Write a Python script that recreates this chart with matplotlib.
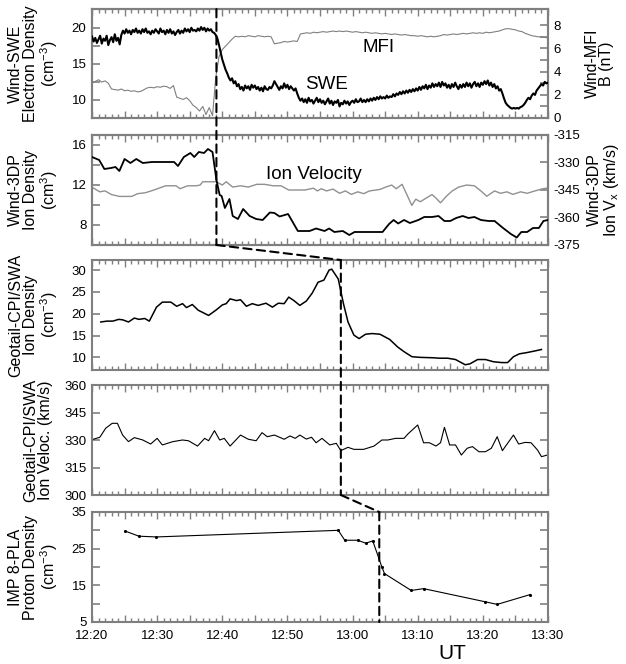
import numpy as np
import matplotlib
matplotlib.use("Agg")
import matplotlib.pyplot as plt
from matplotlib.patches import ConnectionPatch

plt.rcParams['font.family'] = ['Liberation Sans', 'DejaVu Sans']
plt.rcParams['mathtext.default'] = 'regular'

# time axis: minutes after 12:20 UT
X_MAJOR = [0, 5, 10, 15, 20, 25, 30, 35, 40, 45, 50, 55, 60, 65, 70]
X_LABELS = ['12:20', '', '12:30', '', '12:40', '', '12:50', '',
            '13:00', '', '13:10', '', '13:20', '', '13:30']

# Wind-SWE electron density, 15 s samples from 12:20
swe_t = np.arange(0, 70.01, 0.25)
swe_n = [
    18.8, 18.1, 18.6, 17.9, 18.4, 18.9, 17.8, 18.5, 18.2, 18.9, 17.6, 18.3,
    18.7, 18.0, 19.1, 18.2, 18.6, 17.7, 19.0, 19.6, 19.2, 19.8, 19.3, 19.6,
    19.1, 19.7, 19.4, 19.9, 19.3, 19.6, 19.2, 19.8, 19.4, 19.9, 19.3, 19.5,
    19.1, 19.6, 19.3, 19.8, 19.5, 19.2, 19.9, 19.4, 19.6, 19.1, 19.7, 19.3,
    19.8, 19.2, 19.5, 19.0, 19.4, 19.7, 19.2, 19.6, 19.3, 19.9, 19.5, 19.8,
    19.4, 20.0, 19.6, 19.7, 19.5, 19.9, 19.6, 20.1, 19.7, 20.0, 19.5, 19.9,
    19.6, 19.8, 19.4, 19.3, 19.0, 18.5, 17.6, 16.6, 15.6, 14.9, 14.2, 13.7,
    13.1, 12.7, 13.0, 12.3, 12.6, 11.9, 12.2, 11.5, 11.8, 11.3, 12.0, 11.6,
    11.9, 11.4, 12.1, 11.7, 12.0, 11.5, 11.8, 11.3, 11.7, 11.2, 11.9, 11.5,
    11.4, 11.8, 11.6, 12.0, 12.6, 12.2, 11.8, 11.4, 11.9, 11.6, 12.3, 11.7,
    12.1, 11.5, 11.9, 11.6, 11.3, 11.6, 10.9, 10.3, 9.9, 10.2, 9.7, 10.1,
    9.6, 10.3, 9.8, 10.0, 9.5, 9.9, 10.3, 9.7, 10.1, 9.6, 9.9, 9.4,
    9.8, 10.2, 9.5, 9.9, 9.3, 9.8, 9.6, 10.0, 9.1, 9.6, 9.4, 9.9,
    9.5, 9.8, 9.3, 9.7, 9.9, 9.6, 10.1, 9.7, 9.8, 10.2, 9.7, 10.0,
    9.7, 10.1, 9.8, 10.2, 9.9, 10.3, 10.0, 10.4, 10.1, 10.5, 10.2, 10.4,
    10.2, 10.6, 10.3, 10.5, 10.4, 10.8, 10.5, 10.9, 10.7, 11.1, 10.8, 11.2,
    10.9, 11.3, 11.0, 11.4, 11.1, 11.5, 11.2, 11.6, 11.3, 11.8, 11.4, 11.9,
    11.6, 12.1, 11.5, 12.0, 11.7, 12.3, 11.8, 12.2, 11.9, 12.4, 11.8, 12.5,
    12.0, 12.3, 11.7, 12.1, 11.6, 12.2, 11.8, 12.4, 11.9, 11.5, 12.1, 11.7,
    12.2, 11.8, 12.4, 11.9, 12.3, 11.7, 12.2, 12.5, 11.9, 12.3, 11.8, 12.4,
    12.1, 12.6, 12.2, 12.7, 12.0, 12.4, 11.8, 12.2, 11.6, 11.9, 11.3, 11.5,
    10.9, 10.2, 9.6, 9.3, 9.1, 8.9, 8.8, 8.9, 8.8, 8.9, 8.8, 9.0,
    9.1, 9.3, 9.6, 10.0, 10.3, 10.1, 10.6, 10.9, 10.7, 11.3, 11.6, 11.9,
    12.2, 12.0, 12.5, 12.3, 12.4,
]

# Wind-MFI |B| (nT), 30 s samples
mfi_t = np.arange(0, 70.01, 0.5)
mfi_b = [
    3.0, 3.15, 3.3, 3.1, 3.2, 3.0, 2.5, 2.45, 2.4, 2.5, 2.35, 2.4,
    2.3, 2.35, 2.25, 2.3, 2.45, 2.6, 2.65, 2.6, 2.7, 2.65, 2.75, 2.7,
    2.55, 2.8, 1.8, 1.7, 1.6, 1.75, 1.5, 1.1, 0.9, 0.6, 1.0, 0.3,
    0.9, 0.2, 3.5, 5.3, 5.9, 6.2, 6.5, 6.8, 7.05, 7.0, 7.05, 7.0,
    7.1, 7.05, 7.0, 7.1, 7.05, 7.0, 7.05, 7.0, 6.4, 6.45, 6.5, 6.6,
    6.55, 6.6, 6.65, 6.6, 7.25, 7.3, 7.35, 7.3, 7.4, 7.35, 7.4, 7.45,
    7.4, 7.45, 7.5, 7.45, 7.5, 7.45, 7.5, 7.45, 7.4, 7.45, 7.4, 7.35,
    7.4, 7.35, 7.3, 7.35, 7.3, 7.25, 7.3, 7.25, 7.2, 7.25, 7.2, 7.15,
    7.2, 7.15, 7.1, 7.1, 7.05, 7.1, 7.05, 7.0, 7.05, 7.0, 7.05, 7.1,
    7.2, 7.15, 7.2, 7.25, 7.2, 7.25, 7.3, 7.25, 7.3, 7.35, 7.3, 7.35,
    7.3, 7.4, 7.35, 7.4, 7.45, 7.5, 7.6, 7.7, 7.7, 7.65, 7.6, 7.5,
    7.45, 7.3, 7.2, 7.1, 7.05, 7.0, 7.0, 6.95, 6.9,
]

# Wind-3DP ion density
tdp_t = [0, 1.1, 1.9, 2.9, 3.6, 4.2, 5.0, 5.9, 6.8, 7.8, 9.2, 11.0, 12.6,
         13.2, 14.1, 15.1, 15.7, 16.4, 17.2, 17.8, 18.5, 19.1, 19.6, 19.9,
         20.4, 21.1, 21.6, 22.4, 23.2, 24.2, 25.2, 26.2, 27.3, 28.0, 28.8,
         30.1, 31.6, 33.4, 34.4, 35.7, 36.4, 37.2, 38.5, 39.5, 40.3, 44.6,
         45.6, 46.3, 47.0, 47.9, 48.8, 50.1, 51.0, 52.2, 53.2, 54.1, 55.0,
         55.9, 56.9, 57.8, 58.7, 59.7, 60.9, 61.8, 63.1, 64.3, 65.2, 65.9,
         66.8, 67.7, 68.6, 69.3, 70.0]
tdp_n = [14.8, 14.5, 13.6, 13.7, 13.8, 13.4, 14.6, 14.2, 14.6, 14.2, 14.3,
         14.3, 14.3, 13.9, 14.8, 15.2, 14.8, 15.3, 15.2, 15.6, 15.3, 12.5,
         11.0, 10.9, 9.7, 10.6, 8.9, 8.6, 9.6, 8.9, 8.6, 8.5, 9.25, 9.2,
         8.85, 9.1, 7.4, 7.4, 7.65, 7.4, 7.65, 7.3, 7.4, 7.0, 7.3, 7.3, 8.1,
         8.5, 8.15, 8.5, 8.2, 8.5, 8.8, 8.8, 8.9, 8.4, 8.4, 8.7, 8.9, 8.7,
         8.8, 8.5, 8.4, 8.4, 7.7, 7.1, 6.75, 7.3, 7.3, 7.7, 7.7, 8.4, 8.5]

# Wind-3DP ion Vx (km/s)
vx_t = [0, 1.2, 2.0, 3.0, 4.2, 6.1, 7.0, 8.2, 9.5, 11.3, 12.9, 13.5, 14.7,
        16.0, 16.6, 17.0, 19.1, 20.0, 20.6, 21.6, 22.8, 24.0, 25.3, 26.5,
        27.8, 29.0, 30.2, 31.5, 32.7, 34.0, 34.6, 35.2, 36.0, 37.0, 38.0,
        38.9, 39.8, 40.8, 41.7, 42.6, 44.2, 45.1, 46.0, 46.7, 47.6, 48.2,
        49.1, 49.7, 50.4, 51.3, 52.2, 52.8, 53.5, 54.4, 55.3, 56.3, 57.5,
        58.7, 59.7, 60.6, 61.8, 62.7, 63.7, 64.6, 65.8, 66.8, 68.0, 69.2,
        70.0]
vx = [-343.5, -346, -345.5, -347.5, -348.5, -348.5, -347, -346.5, -345,
      -342.7, -342.7, -344.3, -342.7, -342.7, -342.3, -340.5, -340.5,
      -342.3, -340.5, -343.4, -342.7, -343.4, -341.9, -341.9, -342.7,
      -342.7, -345, -345, -345, -344, -345.5, -344.3, -345.5, -344.5,
      -346.8, -345.5, -347.4, -346, -347, -345.5, -344.7, -343.4, -342.3,
      -344.3, -341.9, -346.5, -353.4, -350, -351.4, -349.4, -347.5,
      -349.4, -352, -348.4, -345.5, -343.4, -342.3, -342.7, -345.5,
      -348.4, -345.5, -346.8, -346, -347.4, -346, -346.8, -345.5, -344.3,
      -343.9]

# Geotail-CPI/SWA ion density
geo_n_t = [1.35, 2.3, 3.2, 4.1, 4.7, 5.6, 6.5, 7.2, 8.1, 8.8, 9.9, 10.8,
           12.1, 13.0, 13.9, 14.5, 15.4, 16.3, 17.9, 19.1, 20.0, 20.6, 21.2,
           22.2, 22.8, 23.7, 24.6, 25.5, 26.7, 27.7, 28.6, 29.5, 30.2, 31.0,
           31.9, 32.9, 33.8, 34.7, 35.6, 36.4, 36.8, 37.8, 38.6, 39.3, 40.2,
           41.0, 42.0, 43.0, 44.2, 45.7, 46.9, 47.9, 49.1, 50.3, 52.4, 53.4,
           54.6, 55.8, 57.3, 58.0, 59.2, 60.4, 61.6, 62.9, 63.8, 64.7, 65.6,
           66.8, 68.1, 69.0]
geo_n = [18.1, 18.3, 18.3, 18.7, 18.6, 18.1, 19.0, 18.7, 18.9, 18.3, 21.5,
         22.65, 22.65, 21.7, 22.3, 21.4, 22.1, 20.8, 19.6, 20.9, 22.0, 22.3,
         23.4, 23.0, 23.2, 21.7, 22.3, 21.9, 22.4, 21.5, 22.4, 22.3, 23.8,
         23.0, 21.9, 22.9, 24.7, 27.2, 27.7, 30.0, 30.2, 27.95, 22.3, 18.1,
         15.1, 14.3, 15.3, 15.45, 15.3, 14.1, 12.4, 11.3, 10.15, 10.0, 9.9,
         9.8, 9.8, 9.5, 8.3, 8.5, 9.5, 9.5, 9.0, 8.8, 8.8, 10.15, 10.8, 11.1,
         11.5, 11.8]

# Geotail-CPI/SWA ion velocity (km/s)
geo_v_t = [0.2, 1.2, 2.1, 3.1, 3.9, 4.7, 5.6, 6.5, 7.8, 9.0, 10.0, 10.8,
           12.4, 13.9, 14.8, 16.2, 17.3, 17.9, 18.8, 19.6, 20.3, 21.2, 22.8,
           24.0, 25.2, 26.1, 26.9, 28.0, 29.5, 30.4, 31.2, 31.9, 32.9, 33.7,
           34.4, 35.3, 36.5, 37.5, 38.2, 39.3, 40.2, 41.7, 43.3, 44.5, 45.4,
           46.6, 47.9, 48.5, 50.0, 50.9, 51.8, 52.8, 53.5, 54.1, 54.9, 55.8,
           56.7, 57.6, 58.4, 59.4, 60.4, 61.3, 62.2, 63.0, 64.7, 65.5, 66.5,
           67.4, 68.4, 69.0, 69.9]
geo_v = [330.4, 331.5, 336.4, 339.1, 339.1, 332.7, 329.1, 331.3, 330.0,
         327.8, 330.9, 327.3, 329.1, 330.0, 329.6, 326.7, 330.9, 329.6,
         335.1, 330.0, 330.9, 326.7, 332.7, 330.4, 329.6, 334.0, 331.8,
         332.7, 330.4, 332.2, 330.9, 332.7, 330.5, 331.5, 328.5, 330.9,
         327.3, 328.2, 324.2, 326.0, 324.9, 324.9, 326.7, 330.0, 330.0,
         330.9, 330.9, 333.3, 338.2, 328.5, 328.5, 326.7, 328.5, 336.9,
         327.3, 327.3, 321.8, 325.5, 326.4, 323.6, 323.6, 325.5, 331.8,
         324.2, 332.7, 327.8, 328.7, 328.5, 324.5, 320.9, 321.8]

# IMP 8-PLA proton density
imp_t = [5.1, 7.2, 9.9, 37.8, 38.8, 40.8, 42.0, 43.1, 44.5, 44.9, 49.0,
         50.9, 60.4, 62.2, 67.3]
imp_n = [29.8, 28.4, 28.2, 30.0, 27.3, 27.3, 26.5, 27.1, 20.0, 18.2, 13.6,
         14.1, 10.5, 9.8, 12.5]

# shock arrival times (min after 12:20)
T_WIND = 19.1
T_GEOTAIL = 38.2
T_IMP = 44.1

FRAME = '#7f7f7f'
DASH = (0, (4, 2.5))

fig = plt.figure(figsize=(6.26, 6.64), dpi=100)
L, W = 92 / 626, 456 / 626


def add_panel(top_px, bottom_px):
    return fig.add_axes([L, 1 - bottom_px / 664, W, (bottom_px - top_px) / 664])


def style(ax, yticks, ylabels, ylim, right=True, xlabels=False):
    ax.set_xlim(0, 70)
    ax.set_ylim(*ylim)
    ax.set_xticks(X_MAJOR)
    ax.set_xticks(np.arange(0, 71, 1), minor=True)
    if xlabels:
        ax.set_xticklabels(X_LABELS, fontsize=9.5)
    else:
        ax.set_xticklabels([])
    ax.set_yticks(yticks)
    ax.set_yticklabels(ylabels, fontsize=9.5)
    ax.tick_params(axis='x', which='major', direction='in', top=True,
                   bottom=True, length=5, width=1, color=FRAME, pad=6)
    ax.tick_params(axis='x', which='minor', direction='in', top=True,
                   bottom=True, length=3, width=1, color=FRAME)
    ax.tick_params(axis='y', direction='in', left=True, right=right,
                   length=6, width=1.2, color=FRAME, pad=4)
    for s in ax.spines.values():
        s.set_color(FRAME)
        s.set_linewidth(1.5)


def style_twin(ax, yticks, ylabels, ylim):
    ax.set_ylim(*ylim)
    ax.set_yticks(yticks)
    ax.set_yticklabels(ylabels, fontsize=9.5)
    ax.tick_params(axis='y', direction='in', length=6, width=1.2,
                   color=FRAME, pad=4)
    for s in ax.spines.values():
        s.set_color(FRAME)
        s.set_linewidth(1.5)


# panel 1: Wind SWE / MFI
ax1 = add_panel(9, 118)
ax1b = ax1.twinx()
ax1b.plot(mfi_t, mfi_b, color='#808080', lw=0.8)
ax1.plot(swe_t, swe_n, color='black', lw=1.5, zorder=3)
ax1.set_zorder(ax1b.get_zorder() + 1)
ax1.patch.set_visible(False)
style(ax1, [7.5, 10, 12.5, 15, 17.5, 20], ['', '10', '', '15', '', '20'],
      (7.5, 22.6), right=False)
style_twin(ax1b, [0, 1, 2, 3, 4, 5, 6, 7, 8],
           ['0', '', '2', '', '4', '', '6', '', '8'], (0, 9.4))
ax1.text(44, 17.2, 'MFI', fontsize=13.5, ha='center', va='center')
ax1.text(36, 12.2, 'SWE', fontsize=13.5, ha='center', va='center')
ax1.set_ylabel('Wind-SWE\nElectron Density\n(cm$^{-3}$)', fontsize=11.5,
               linespacing=1.0)
ax1b.set_ylabel('Wind-MFI\nB (nT)', fontsize=11.5, linespacing=1.0,
                rotation=90)

# panel 2: Wind 3DP
ax2 = add_panel(135, 245)
ax2b = ax2.twinx()
ax2b.plot(vx_t, vx, color='#909090', lw=1.0)
ax2.plot(tdp_t, tdp_n, color='black', lw=1.3, zorder=3)
ax2.set_zorder(ax2b.get_zorder() + 1)
ax2.patch.set_visible(False)
style(ax2, [8, 10, 12, 14, 16], ['8', '', '12', '', '16'], (6, 17),
      right=False)
style_twin(ax2b, [-375, -360, -345, -330, -315],
           ['-375', '-360', '-345', '-330', '-315'], (-375, -315))
ax2.text(34, 13.0, 'Ion Velocity', fontsize=13.5, ha='center', va='center')
ax2.set_ylabel('Wind-3DP\nIon Density\n(cm$^{3}$)', fontsize=11.5,
               linespacing=1.0)
ax2b.set_ylabel('Wind-3DP\nIon V$_x$ (km/s)', fontsize=11.5,
                linespacing=1.0, rotation=90)

# panel 3: Geotail density
ax3 = add_panel(260, 370)
ax3.plot(geo_n_t, geo_n, color='black', lw=1.1)
style(ax3, [10, 15, 20, 25, 30], ['10', '15', '20', '25', '30'], (7.1, 32.3))
ax3.set_ylabel('Geotail-CPI/SWA\nIon Density\n(cm$^{-3}$)', fontsize=11.5,
               linespacing=1.0)

# panel 4: Geotail velocity
ax4 = add_panel(385, 495)
ax4.plot(geo_v_t, geo_v, color='black', lw=0.8)
style(ax4, [300, 315, 330, 345, 360], ['300', '315', '330', '345', '360'],
      (300, 360))
ax4.set_ylabel('Geotail-CPI/SWA\nIon Veloc. (km/s)', fontsize=11.5,
               linespacing=1.0)

# panel 5: IMP 8
ax5 = add_panel(512, 622)
ax5.plot(imp_t, imp_n, color='black', lw=0.8, marker='.', markersize=2.5)
style(ax5, [5, 10, 15, 20, 25, 30, 35], ['5', '', '15', '', '25', '', '35'],
      (5, 35), xlabels=True)
ax5.set_ylabel('IMP 8-PLA\nProton Density\n(cm$^{-3}$)', fontsize=11.5,
               linespacing=1.0)

for ax, x in [(ax1, -0.07), (ax2, -0.07), (ax3, -0.07), (ax4, -0.085),
              (ax5, -0.07)]:
    ax.yaxis.set_label_coords(x, 0.5)
ax1b.yaxis.set_label_coords(1.08, 0.5)
ax2b.yaxis.set_label_coords(1.085, 0.5)

fig.text(452 / 626, 0.002, 'UT', fontsize=15, ha='center', va='bottom')


def dashed(axA, xa, ya, axB, xb, yb):
    con = ConnectionPatch(xyA=(xa, ya), coordsA=axA.get_xaxis_transform(),
                          xyB=(xb, yb), coordsB=axB.get_xaxis_transform(),
                          color='black', lw=1.5, linestyle=DASH, zorder=10)
    fig.add_artist(con)


dashed(ax1, T_WIND, 1, ax2, T_WIND, 0)
dashed(ax2, T_WIND, 0, ax3, T_GEOTAIL, 1)
dashed(ax3, T_GEOTAIL, 1, ax4, T_GEOTAIL, 0)
dashed(ax4, T_GEOTAIL, 0, ax5, T_IMP, 1)
dashed(ax5, T_IMP, 1, ax5, T_IMP, 0)

fig.savefig('out.png', dpi=100)
